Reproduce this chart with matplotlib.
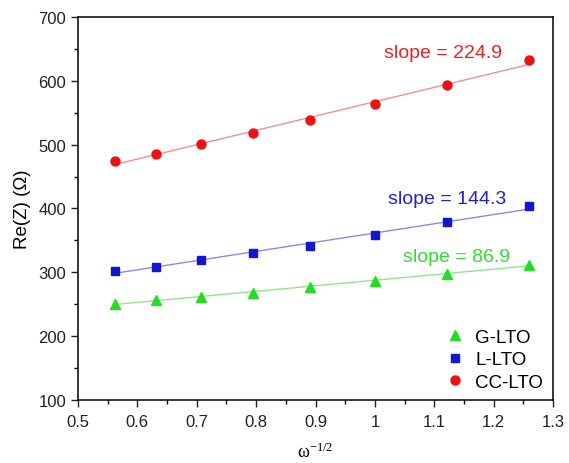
import numpy as np
import matplotlib
matplotlib.use("Agg")
import matplotlib.pyplot as plt
from matplotlib.ticker import MultipleLocator

plt.rcParams['font.family'] = ['Liberation Sans', 'DejaVu Sans']

# omega^-1/2 for each frequency point
x = [0.562, 0.631, 0.708, 0.794, 0.891, 1.0, 1.122, 1.259]
g_lto = [251, 256, 262, 268, 277, 287, 298, 312]
l_lto = [302, 309, 319, 330, 342, 359, 379, 404]
cc_lto = [474, 486, 501, 518, 538, 564, 594, 632]
slopes = {"G-LTO": 86.9, "L-LTO": 144.3, "CC-LTO": 224.9}

fig = plt.figure(figsize=(5.69, 4.64), dpi=100)
ax = fig.add_axes([0.137, 0.136, 0.835, 0.825])

series = [
    ("G-LTO", g_lto, "^", 7.0, "#22dd22", "#8de88d", "#33dd33", (1.138, 325)),
    ("L-LTO", l_lto, "s", 5.3, "#1414d4", "#8a8ae6", "#2222cc", (1.121, 416)),
    ("CC-LTO", cc_lto, "o", 6.5, "#ee1111", "#f29090", "#e82222", (1.115, 645)),
]

xs = np.array(x)
for name, ys, mk, ms, col, lcol, tcol, pos in series:
    ys = np.array(ys)
    k = slopes[name]
    b = ys.mean() - k * xs.mean()
    ax.plot(xs, k * xs + b, color=lcol, lw=1.0, zorder=1)
    ax.plot(xs, ys, mk, color=col, ms=ms, ls="none", label=name, zorder=2)
    ax.text(pos[0], pos[1], "slope = %.1f" % k, color=tcol, fontsize=14,
            ha="center", va="center")

ax.set_xlim(0.5, 1.3)
ax.set_ylim(100, 700)
ax.xaxis.set_minor_locator(MultipleLocator(0.05))
ax.yaxis.set_major_locator(MultipleLocator(100))
ax.yaxis.set_minor_locator(MultipleLocator(50))
ax.set_xticks(np.arange(0.5, 1.31, 0.1))
ax.set_xticklabels(["0.5", "0.6", "0.7", "0.8", "0.9", "1", "1.1", "1.2", "1.3"])
ax.tick_params(which="major", direction="out", length=5, width=1,
               labelsize=12, colors="#222222")
ax.tick_params(axis="x", which="major", pad=5)
ax.tick_params(which="minor", direction="out", length=3, width=1)
for s in ax.spines.values():
    s.set_linewidth(1.1)

ax.set_ylabel("Re(Z) (Ω)", fontsize=13.5, labelpad=5)
ax.set_xlabel(r"$\mathregular{ω^{-1/2}}$", fontsize=13, labelpad=9,
              family=["Liberation Serif", "DejaVu Serif"])

ax.legend(loc="lower right", bbox_to_anchor=(1.015, -0.021), frameon=False,
          fontsize=13.5, handletextpad=0.6, borderaxespad=0.5,
          labelspacing=0.3, handlelength=1.0)

fig.savefig("out.png", dpi=100)
